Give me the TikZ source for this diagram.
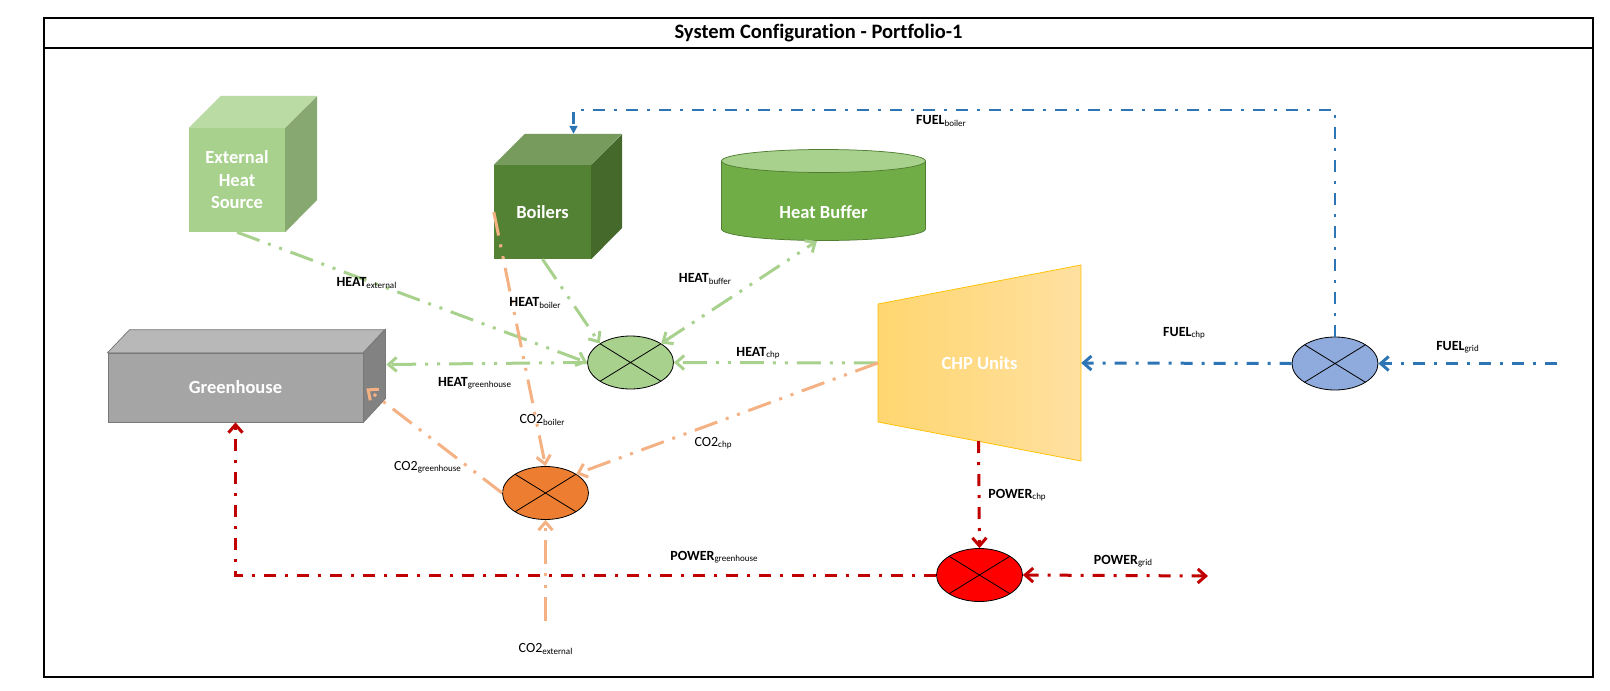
\documentclass[tikz,border=0pt]{standalone}
\usepackage{fontspec}
\setmainfont{Carlito}[Ligatures=NoCommon]
\definecolor{extfront}{RGB}{169, 209, 142}
\definecolor{exttop}{RGB}{187, 219, 165}
\definecolor{extside}{RGB}{135, 168, 112}
\definecolor{boilfront}{RGB}{84, 130, 53}
\definecolor{boiltop}{RGB}{118, 155, 92}
\definecolor{boilside}{RGB}{68, 105, 43}
\definecolor{buffbody}{RGB}{112, 173, 71}
\definecolor{bufftop}{RGB}{169, 209, 142}
\definecolor{buffedge}{RGB}{80, 126, 50}
\definecolor{ghfront}{RGB}{165, 165, 165}
\definecolor{ghtop}{RGB}{184, 184, 184}
\definecolor{ghside}{RGB}{130, 130, 130}
\definecolor{ghedge}{RGB}{120, 120, 120}
\definecolor{chpleft}{RGB}{255, 214, 112}
\definecolor{chpright}{RGB}{255, 224, 160}
\definecolor{chpedge}{RGB}{255, 192, 0}
\definecolor{heatmix}{RGB}{169, 209, 142}
\definecolor{co2mix}{RGB}{237, 125, 49}
\definecolor{powermix}{RGB}{255, 0, 0}
\definecolor{fuelmix}{RGB}{143, 170, 220}
\definecolor{heatflow}{RGB}{169, 209, 142}
\definecolor{co2flow}{RGB}{244, 177, 131}
\definecolor{powerflow}{RGB}{192, 0, 0}
\definecolor{fuelflow}{RGB}{46, 117, 182}
\usepackage{tikz}
\usetikzlibrary{shapes.geometric, arrows.meta, calc}
\newcommand{\flowsub}[1]{\raisebox{-1.5pt}{\fontsize{9}{10}\selectfont\mdseries #1}}
\tikzset{
    chev/.tip={Straight Barb[length=8pt, width=14pt]},
    frame/.style={draw=black, line width=2pt},
    unitbox/.style={rectangle, inner sep=0pt, text=white, align=center, font=\fontsize{18.5}{22.5}\selectfont\bfseries},
    mixer/.style={ellipse, draw=black, line width=0.8pt, minimum width=86pt, minimum height=53pt, inner sep=0pt,
        path picture={\draw[line width=0.8pt] (path picture bounding box.north west) -- (path picture bounding box.south east)
            (path picture bounding box.north east) -- (path picture bounding box.south west);}},
    flowlabel/.style={inner sep=0pt, font=\fontsize{14}{16}\selectfont},
    dashdotdot/.style={dash pattern=on 24pt off 9pt on 3pt off 9pt on 3pt off 9pt},
    dashdot/.style={dash pattern=on 12pt off 9pt on 3pt off 9pt},
    heatarrow/.style={draw=heatflow, line width=3pt, dashdotdot, -chev},
    co2arrow/.style={draw=co2flow, line width=3pt, dashdotdot, -chev},
    powerarrow/.style={draw=powerflow, line width=3pt, dashdot, -chev},
    fuelarrow/.style={draw=fuelflow, line width=3pt, dashdot, -chev},
}
\begin{document}
\begin{tikzpicture}[x=1pt, y=-1pt]
    \useasboundingbox (0,0) rectangle (1610,691);

    % Frame and title
    \draw[frame] (44,17.5) rectangle (1593,677);
    \draw[frame] (44,48) -- (1593,48);
    \node[font=\fontsize{20.5}{24}\selectfont\bfseries] (title) at (818.5,33) {System Configuration - Portfolio-1};

    % External heat source (cube)
    \node[unitbox, fill=extfront, minimum width=96pt, minimum height=104pt] (ext) at (237,180) {External\\Heat\\Source};
    \fill[exttop] (ext.north west) -- ++(32,-32) -- ++(96,0) -- (ext.north east) -- cycle;
    \fill[extside] (ext.north east) -- ++(32,-32) -- ++(0,104) -- (ext.south east) -- cycle;

    % Boilers (cube)
    \node[unitbox, fill=boilfront, minimum width=97pt, minimum height=94pt] (boil) at (542.5,212) {Boilers};
    \fill[boiltop] (boil.north west) -- ++(31,-31) -- ++(97,0) -- (boil.north east) -- cycle;
    \fill[boilside] (boil.north east) -- ++(31,-31) -- ++(0,94) -- (boil.south east) -- cycle;

    % Heat buffer (cylinder)
    \draw[buffedge, fill=buffbody, line width=0.75pt] (721.5,161) -- (721.5,229) arc[start angle=180, end angle=0, x radius=102, y radius=11.5] -- (925.5,161) -- cycle;
    \draw[buffedge, fill=bufftop, line width=0.75pt] (823.5,161) ellipse[x radius=102, y radius=11.5];
    \node[unitbox] (buffer) at (823.5,212) {Heat Buffer};
    \coordinate (buffbot) at (817,241);

    % Greenhouse (box)
    \node[unitbox, fill=ghfront, draw=ghedge, line width=0.75pt, minimum width=255pt, minimum height=69pt] (gh) at (235.5,387.5) {Greenhouse};
    \filldraw[fill=ghtop, draw=ghedge, line width=0.75pt] (gh.north west) -- ++(22,-23) -- ++(255,0) -- (gh.north east) -- cycle;
    \filldraw[fill=ghside, draw=ghedge, line width=0.75pt] (gh.north east) -- ++(22,-23) -- ++(0,69) -- (gh.south east) -- cycle;

    % CHP units (trapezium)
    \draw[chpedge, left color=chpleft, right color=chpright, line width=0.75pt] (878,304) -- (1081,265) -- (1081,461) -- (878,422) -- cycle;
    \node[unitbox, minimum width=203pt, minimum height=118pt] (chp) at (979.5,363) {CHP Units};
    \coordinate (chpbot) at (978.5,441);

    % Mixing points
    \node[mixer, fill=heatmix] (hmix) at (630.5,362.5) {};
    \node[mixer, fill=co2mix] (cmix) at (545.5,493) {};
    \node[mixer, fill=powermix] (pmix) at (979.5,575) {};
    \node[mixer, fill=fuelmix] (fmix) at (1335,363.5) {};

    % Free ends
    \coordinate (co2ext) at (545.5,621);
    \coordinate (pgrid) at (1208,576);
    \coordinate (fgrid) at (1557,363.5);
    \coordinate (boiltopc) at ($(boil.north)+(31,-31)$);

    % Heat flows
    \draw[heatarrow] (ext.south) -- (hmix.west);
    \draw[heatarrow] (boil.south) -- (hmix.north west);
    \draw[heatarrow, chev-chev] (hmix.north east) -- (buffbot);
    \draw[heatarrow] (chp.west) -- (hmix.east);
    \draw[heatarrow] (hmix.west) -- ($(gh.east)+(23,-23)$);

    % CO2 flows
    \draw[co2arrow] (boil.west) -- (cmix.north);
    \draw[co2arrow] (chp.west) -- (cmix.north east);
    \draw[co2arrow] (cmix.west) -- ($(gh.east)+(3,1)$);
    \draw[co2arrow] (co2ext) -- (cmix.south);

    % Power flows
    \draw[powerarrow] (chpbot) -- (pmix.north);
    \draw[powerarrow, chev-chev] (pmix.east) -- (pgrid);
    \draw[powerarrow] (pmix.west) -| (gh.south);

    % Fuel flows
    \draw[fuelarrow] (fgrid) -- (fmix.east);
    \draw[fuelarrow] (fmix.west) -- (chp.east);
    \draw[fuelarrow, line width=2.5pt, -{Triangle[length=8pt, width=8pt]}] (fmix.north) |- ($(boiltopc)+(0,-24)$) -- (boiltopc);

    % Labels
    \node[flowlabel] (lhext) at (366.5,283) {\textbf{HEAT}\flowsub{external}};
    \node[flowlabel] (lhboil) at (535,303) {\textbf{HEAT}\flowsub{boiler}};
    \node[flowlabel] (lhbuff) at (705,279) {\textbf{HEAT}\flowsub{buffer}};
    \node[flowlabel] (lhchp) at (758,353) {\textbf{HEAT}\flowsub{chp}};
    \node[flowlabel] (lhgh) at (474.5,383) {\textbf{HEAT}\flowsub{greenhouse}};
    \node[flowlabel] (lcboil) at (542,420) {CO2\flowsub{boiler}};
    \node[flowlabel] (lcchp) at (713,443) {CO2\flowsub{chp}};
    \node[flowlabel] (lcgh) at (427.5,467) {CO2\flowsub{greenhouse}};
    \node[flowlabel] (lcext) at (545.5,649) {CO2\flowsub{external}};
    \node[flowlabel] (lpgh) at (714,557) {\textbf{POWER}\flowsub{greenhouse}};
    \node[flowlabel] (lpchp) at (1017,495) {\textbf{POWER}\flowsub{chp}};
    \node[flowlabel] (lpgrid) at (1123,561) {\textbf{POWER}\flowsub{grid}};
    \node[flowlabel] (lfchp) at (1184,333) {\textbf{FUEL}\flowsub{chp}};
    \node[flowlabel] (lfgrid) at (1457.5,347) {\textbf{FUEL}\flowsub{grid}};
    \node[flowlabel] (lfboil) at (941,121) {\textbf{FUEL}\flowsub{boiler}};
\end{tikzpicture}
\end{document}
